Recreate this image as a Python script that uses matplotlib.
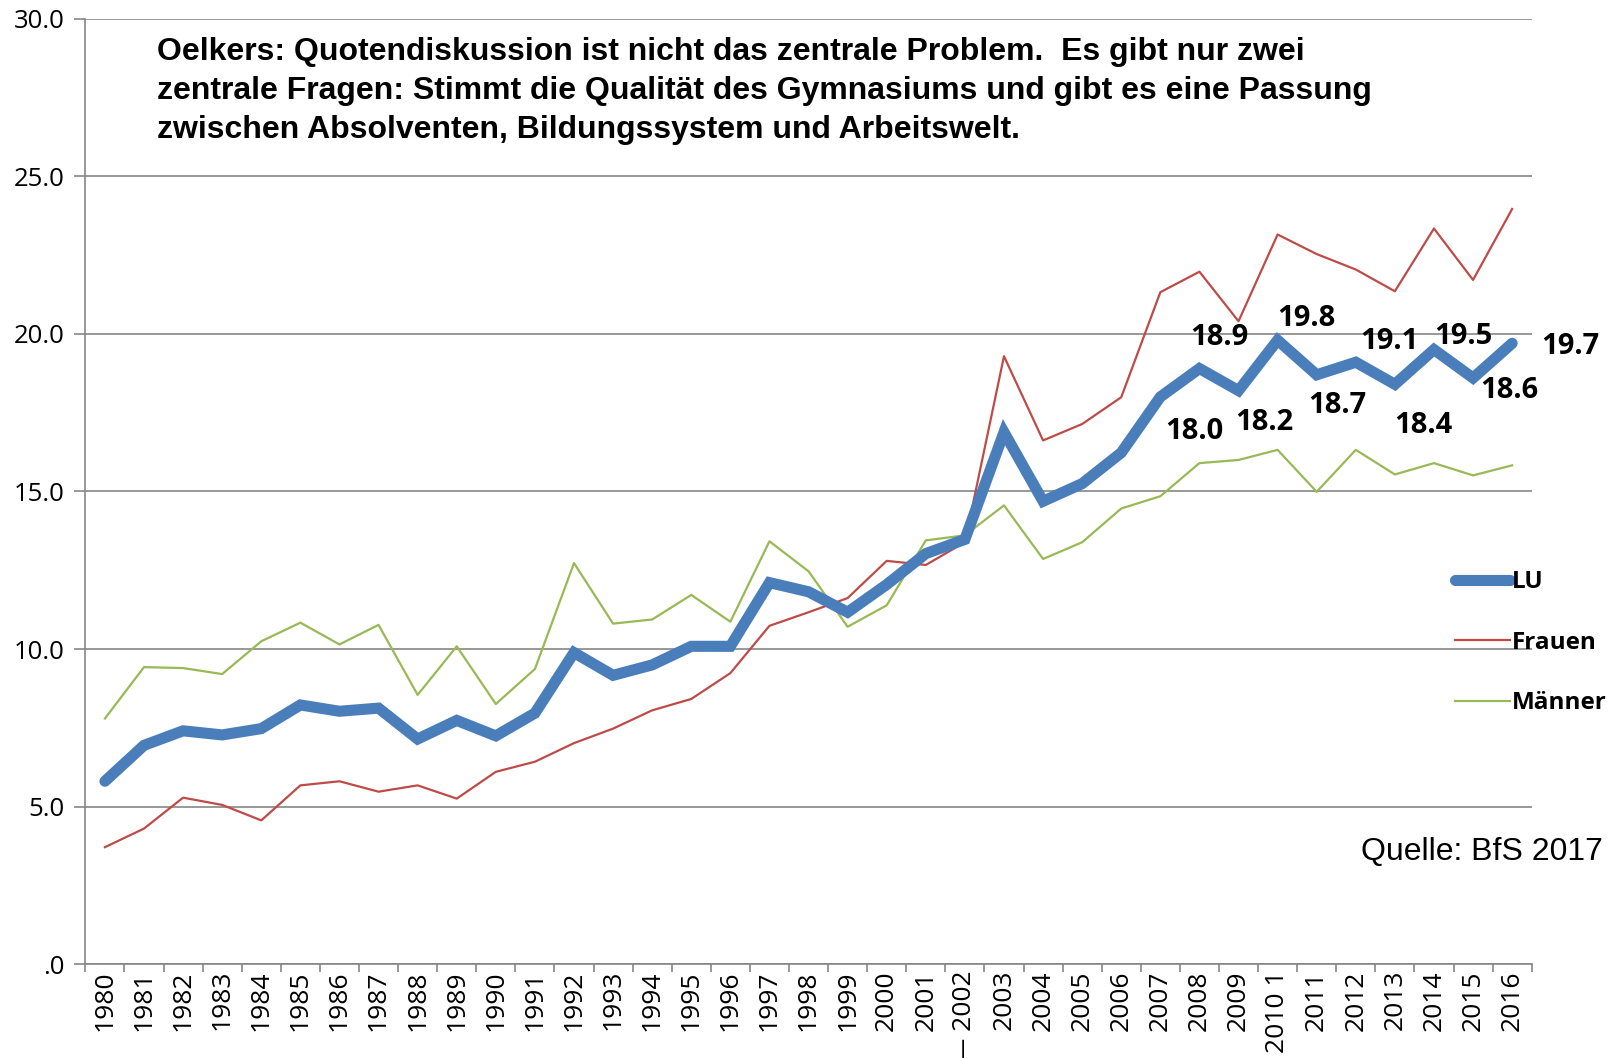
import matplotlib
matplotlib.use('Agg')
import matplotlib.pyplot as plt
from matplotlib.ticker import FixedLocator, FuncFormatter

years = [str(y) for y in range(1980, 2017)]
year_labels = list(years)
year_labels[years.index('2002')] = '\u2014 2002'
year_labels[years.index('2010')] = '2010 1'

lu = [5.81, 6.95, 7.41, 7.28, 7.48, 8.23, 8.03, 8.13, 7.15, 7.74,
      7.25, 7.97, 9.89, 9.17, 9.50, 10.09, 10.09, 12.11, 11.82, 11.17,
      12.05, 13.03, 13.48, 16.88, 14.69, 15.25, 16.23, 18.0, 18.9, 18.2,
      19.8, 18.7, 19.1, 18.4, 19.5, 18.6, 19.7]
frauen = [3.72, 4.31, 5.29, 5.06, 4.57, 5.68, 5.81, 5.48, 5.68, 5.26,
          6.11, 6.43, 7.02, 7.48, 8.06, 8.42, 9.24, 10.74, 11.17, 11.62,
          12.80, 12.67, 13.39, 19.29, 16.62, 17.14, 17.99, 21.32, 21.97, 20.40,
          23.15, 22.53, 22.04, 21.35, 23.34, 21.71, 23.96]
maenner = [7.80, 9.43, 9.40, 9.21, 10.25, 10.84, 10.15, 10.77, 8.55, 10.09,
           8.26, 9.37, 12.73, 10.81, 10.94, 11.72, 10.87, 13.42, 12.47, 10.71,
           11.39, 13.45, 13.61, 14.56, 12.86, 13.39, 14.46, 14.85, 15.90, 16.00,
           16.32, 14.99, 16.32, 15.54, 15.90, 15.51, 15.83]

# labelled LU points (2007-2016) and where their labels sit (offset in px)
label_from = 27
label_offsets = [(33, -34), (19, 30), (25, -31), (28, 21), (20, -30),
                 (33, 20), (28, -40), (29, 13), (35, -12), (57, -3)]

title = ('Oelkers: Quotendiskussion ist nicht das zentrale Problem.  Es gibt nur zwei\n'
         'zentrale Fragen: Stimmt die Qualität des Gymnasiums und gibt es eine Passung\n'
         'zwischen Absolventen, Bildungssystem und Arbeitswelt.')

c_lu = '#4A7EBB'
c_fr = '#BE4B48'
c_ma = '#98B954'
grid_c = '#868686'

fig = plt.figure(figsize=(16.14, 10.58), dpi=100)
ax = fig.add_axes([0.0529, 0.0884, 0.8961, 0.8941])

x = list(range(len(years)))
ax.plot(x, lu, color=c_lu, lw=8, solid_capstyle='round', solid_joinstyle='miter', label='LU', zorder=4)
ax.plot(x, frauen, color=c_fr, lw=1.6, label='Frauen', zorder=3)
ax.plot(x, maenner, color=c_ma, lw=1.6, label='Männer', zorder=3)

for i, (dx, dy) in enumerate(label_offsets):
    k = label_from + i
    ax.annotate('%.1f' % lu[k], (x[k], lu[k]), xytext=(dx * 0.74, dy * 0.74),
                textcoords='offset points', ha='center', va='center',
                fontsize=21, fontweight='bold', family='Open Sans', zorder=5)

ax.set_xlim(-0.5, len(years) - 0.5)
ax.set_ylim(0, 30)
ax.set_yticks([0, 5, 10, 15, 20, 25, 30])
ax.yaxis.set_major_formatter(FuncFormatter(lambda v, p: '.0' if v == 0 else '%.1f' % v))
ax.grid(axis='y', color=grid_c, lw=1.2)
ax.set_axisbelow(True)

ax.set_xticks(x)
ax.set_xticklabels(year_labels, rotation=90, fontsize=19, family='Open Sans')
ax.xaxis.set_minor_locator(FixedLocator([i - 0.5 for i in range(len(years) + 1)]))
ax.tick_params(axis='x', which='major', length=0, pad=4)
ax.tick_params(axis='x', which='minor', length=6, color=grid_c, width=1.2)
ax.tick_params(axis='y', length=8, color=grid_c, width=1.2, labelsize=18.5, pad=7)
for lab in ax.get_yticklabels():
    lab.set_family('Open Sans')

for s in ['top', 'right']:
    ax.spines[s].set_visible(False)
for s in ['left', 'bottom']:
    ax.spines[s].set_color(grid_c)
    ax.spines[s].set_linewidth(1.2)

fig.text(0.0975, 0.965, title, ha='left', va='top', fontsize=23, fontweight='bold',
         family='Liberation Sans', linespacing=1.40)
fig.text(0.993, 0.195, 'Quelle: BfS 2017', ha='right', va='center', fontsize=23,
         family='Liberation Sans')

leg = ax.legend(loc='center left', bbox_to_anchor=(0.932, 0.34), frameon=False,
                prop={'family': 'Open Sans', 'weight': 'bold', 'size': 17.5},
                handlelength=2.25, handletextpad=0.1, labelspacing=1.5)

fig.savefig('out.png', dpi=100)
